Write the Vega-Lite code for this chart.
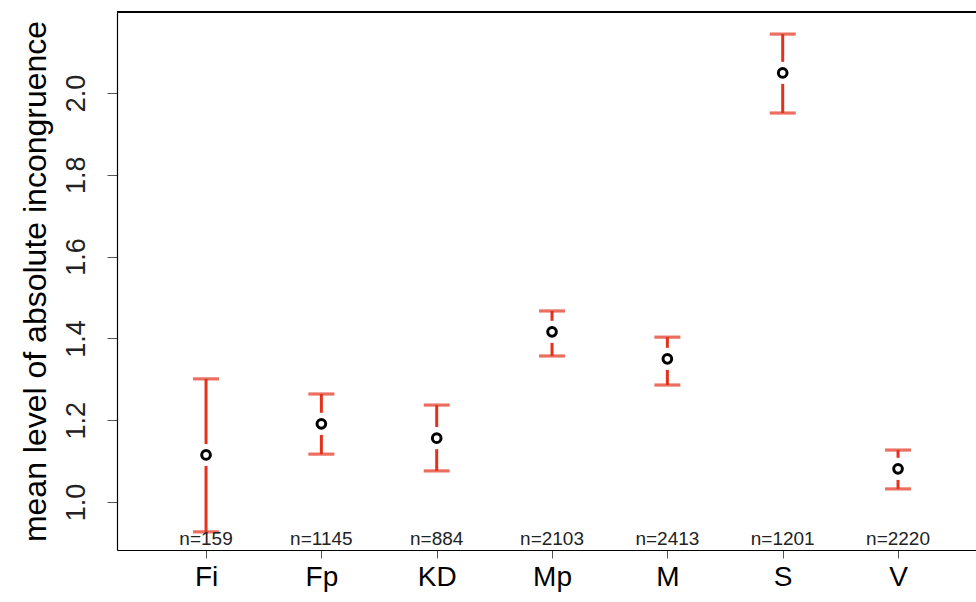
{
  "$schema": "https://vega.github.io/schema/vega-lite/v6.json",
  "autosize": {"type": "none"},
  "padding": {"left": 117, "top": 12, "right": 0, "bottom": 52},
  "width": 859,
  "height": 538,
  "background": "white",
  "config": {
    "view": {"stroke": null},
    "font": "Liberation Sans"
  },
  "data": {
    "values": [
      {"group": "Fi", "pos": 1, "mean": 1.115, "lo": 0.927, "hi": 1.301, "n": "n=159"},
      {"group": "Fp", "pos": 2, "mean": 1.191, "lo": 1.117, "hi": 1.264, "n": "n=1145"},
      {"group": "KD", "pos": 3, "mean": 1.156, "lo": 1.076, "hi": 1.237, "n": "n=884"},
      {"group": "Mp", "pos": 4, "mean": 1.416, "lo": 1.357, "hi": 1.467, "n": "n=2103"},
      {"group": "M", "pos": 5, "mean": 1.350, "lo": 1.286, "hi": 1.403, "n": "n=2413"},
      {"group": "S", "pos": 6, "mean": 2.049, "lo": 1.951, "hi": 2.144, "n": "n=1201"},
      {"group": "V", "pos": 7, "mean": 1.081, "lo": 1.032, "hi": 1.127, "n": "n=2220"}
    ]
  },
  "encoding": {
    "x": {
      "field": "pos", "type": "quantitative",
      "scale": {"domain": [0.228, 7.676], "nice": false, "zero": false},
      "axis": {
        "values": [1, 2, 3, 4, 5, 6, 7],
        "labelExpr": "['','Fi','Fp','KD','Mp','M','S','V'][datum.value]",
        "title": null, "grid": false,
        "domainColor": "black", "domainWidth": 1.2,
        "tickColor": "#555", "tickSize": 8, "tickWidth": 1,
        "labelFontSize": 28, "labelColor": "black", "labelPadding": 5,
        "labelFont": "Liberation Sans"
      }
    }
  },
  "layer": [
    {
      "mark": {"type": "rule", "color": "#e2321d", "strokeWidth": 3},
      "encoding": {
        "y": {
          "field": "lo", "type": "quantitative",
          "scale": {"domain": [0.8826, 2.198], "nice": false, "zero": false},
          "axis": {
            "values": [1.0, 1.2, 1.4, 1.6, 1.8, 2.0],
            "format": ".1f",
            "title": "mean level of absolute incongruence",
            "titleFontSize": 32, "titleFontWeight": "normal", "titleColor": "black",
            "titlePadding": 10,
            "grid": false,
            "domainColor": "black", "domainWidth": 1.2,
            "tickColor": "#555", "tickSize": 10, "tickWidth": 1,
            "labelFontSize": 27, "labelColor": "#222", "labelAngle": -90,
            "labelPadding": 31, "labelAlign": "center", "labelBaseline": "middle"
          }
        },
        "y2": {"field": "hi"}
      }
    },
    {
      "mark": {"type": "tick", "color": "#e2321d", "orient": "horizontal", "size": 26, "thickness": 3.2},
      "encoding": {"y": {"field": "hi", "type": "quantitative"}}
    },
    {
      "mark": {"type": "tick", "color": "#e2321d", "orient": "horizontal", "size": 26, "thickness": 3.2},
      "encoding": {"y": {"field": "lo", "type": "quantitative"}}
    },
    {
      "mark": {"type": "point", "shape": "circle", "filled": true, "color": "white", "size": 490, "opacity": 1},
      "encoding": {"y": {"field": "mean", "type": "quantitative"}}
    },
    {
      "mark": {"type": "point", "shape": "circle", "filled": false, "color": "black", "size": 75, "strokeWidth": 3, "opacity": 1},
      "encoding": {"y": {"field": "mean", "type": "quantitative"}}
    },
    {
      "mark": {"type": "text", "fontSize": 19, "color": "#222", "baseline": "bottom", "dy": -1},
      "encoding": {
        "y": {"datum": 0.8826, "type": "quantitative"},
        "text": {"field": "n"}
      }
    },
    {
      "mark": {"type": "rule", "color": "black", "strokeWidth": 1.2},
      "encoding": {"y": {"datum": 2.198, "type": "quantitative"}, "x": {"datum": 0.228, "type": "quantitative"}, "x2": {"datum": 7.676}}
    }
  ]
}
